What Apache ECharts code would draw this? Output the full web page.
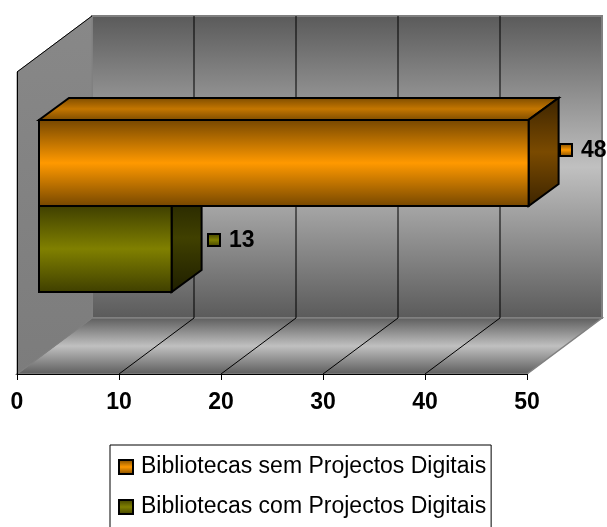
<!DOCTYPE html>
<html><head><meta charset="utf-8">
<script src="https://cdn.jsdelivr.net/npm/echarts@6/dist/echarts.min.js"></script>
<style>html,body{margin:0;padding:0;background:#fff}#c{width:607px;height:527px}</style>
</head><body><div id="c"></div>
<script>
const categories = [''];
const seriesNames = ['Bibliotecas sem Projectos Digitais', 'Bibliotecas com Projectos Digitais'];
const semValues = [48];
const comValues = [13];
const axisTicks = [0, 10, 20, 30, 40, 50];
const innerGridTicks = [10, 20, 30, 40];

const DX = 75, DY = -56;
const FONT = '"Liberation Sans", Arial, sans-serif';
const chart = echarts.init(document.getElementById('c'), null, {renderer: 'canvas'});

function vgrad(a, b, c) {
  return new echarts.graphic.LinearGradient(0, 0, 0, 1, [
    {offset: 0, color: a}, {offset: 0.5, color: b}, {offset: 1, color: c}]);
}
const palette = [
  {front: ['#744600', '#ff9900', '#744600'], top: ['#7a4a00', '#c47600', '#7a4a00'], side: ['#3c2400', '#7a4a00', '#3c2400']},
  {front: ['#3e3e00', '#808000', '#3e3e00'], top: ['#3e3e00', '#606000', '#3e3e00'], side: ['#1e1e00', '#404000', '#1e1e00']}
];
const labelShift = [[59.4, -13], [64.4, -9]];

function poly(points, fill, stroke, lw) {
  return {type: 'polygon', shape: {points}, style: {fill, stroke: stroke || 'none', lineWidth: lw || 0}};
}
function line(p, q, stroke, lw) {
  return {type: 'line', shape: {x1: p[0], y1: p[1], x2: q[0], y2: q[1]}, style: {stroke, lineWidth: lw}};
}

function renderWalls(params, api) {
  const cs = params.coordSys;
  const x0 = cs.x, x1 = cs.x + cs.width, y0 = cs.y, y1 = cs.y + cs.height;
  const back = [[x0 + DX, y0 + DY], [x1 + DX, y0 + DY], [x1 + DX, y1 + DY], [x0 + DX, y1 + DY]];
  return {type: 'group', children: [
    poly(back, vgrad('#5a5a5a', '#c0c0c0', '#5a5a5a'), '#808080', 2),
    poly([[x0, y1], [x1, y1], [x1 + DX, y1 + DY], [x0 + DX, y1 + DY]], vgrad('#5c5c5c', '#c0c0c0', '#5c5c5c'), '#808080', 1.5),
    poly([[x0, y0], [x0 + DX, y0 + DY], [x0 + DX, y1 + DY], [x0, y1]], new echarts.graphic.LinearGradient(0, 0, 0, 1, [
      {offset: 0, color: '#888888'}, {offset: 1, color: '#7c7c7c'}]), '#808080', 1),
    line([x0, y0], [x0 + DX, y0 + DY], '#000', 1)
  ]};
}
function renderGrid(params, api) {
  const p = api.coord([api.value(0), 0]);
  const cs = params.coordSys;
  const bx = p[0], by = cs.y + cs.height;
  const tx = bx + DX, ty = by + DY;
  return {type: 'group', children: [
    line([bx, by], [tx, ty], '#000', 1),
    line([tx, ty], [tx, cs.y + DY], '#000', 1)
  ]};
}
function renderBar(idx) {
  return function (params, api) {
    const v = api.value(0);
    const band = api.size([0, 1])[1];
    const th = band * 0.285;
    const gx = 22, gy = -17, bx = 30, by = -22;
    const c0 = api.coord([0, 0]), cv = api.coord([v, 0]);
    const x0 = c0[0] + gx, x1 = cv[0] + gx;
    const mid = c0[1] + gy;
    const y0 = idx === 0 ? mid - th : mid, y1 = y0 + th;
    const pal = palette[idx];
    const lx = cv[0] + labelShift[idx][0], ly = (y0 + y1) / 2 + labelShift[idx][1];
    const kids = [];
    if (idx === 0) {
      kids.push(poly([[x0, y0], [x1, y0], [x1 + bx, y0 + by], [x0 + bx, y0 + by]], vgrad(...pal.top), '#000', 2));
    }
    kids.push(poly([[x1, y0], [x1 + bx, y0 + by], [x1 + bx, y1 + by], [x1, y1]], vgrad(...pal.side), '#000', 2));
    kids.push({type: 'rect', shape: {x: x0, y: y0, width: x1 - x0, height: th}, style: {fill: vgrad(...pal.front), stroke: '#000', lineWidth: 2}});
    kids.push({type: 'rect', shape: {x: lx - 6, y: ly - 6, width: 12, height: 12}, style: {fill: vgrad(...pal.front), stroke: '#000', lineWidth: 2}});
    kids.push({type: 'text', x: lx + 15, y: ly + 1, style: {text: String(v), fill: '#000', font: 'bold 23px ' + FONT, textAlign: 'left', textVerticalAlign: 'middle'}});
    return {type: 'group', children: kids};
  };
}

chart.setOption({
  animation: false,
  backgroundColor: '#fff',
  grid: {left: 17, top: 72, width: 510, height: 302, containLabel: false},
  xAxis: {type: 'value', min: 0, max: 50, interval: 10, z: 20,
    axisLine: {show: true, lineStyle: {color: '#000', width: 1}},
    axisTick: {show: true, length: 6, inside: false, lineStyle: {color: '#000', width: 1}},
    splitLine: {show: false},
    axisLabel: {show: true, margin: 17, fontFamily: FONT, fontWeight: 'bold', fontSize: 23, color: '#000',
      formatter: v => axisTicks.includes(v) ? String(v) : ''}},
  yAxis: {type: 'category', data: categories, z: 20,
    axisLine: {show: true, lineStyle: {color: '#000', width: 1}},
    axisTick: {show: false}, axisLabel: {show: false}, splitLine: {show: false}},
  legend: {
    left: 110, top: 445, height: 110, orient: 'vertical', itemWidth: 14, itemHeight: 14, itemGap: 16, icon: 'rect',
    padding: [10, 5, 30, 8], borderColor: '#000', borderWidth: 1, backgroundColor: '#fff',
    textStyle: {fontFamily: FONT, fontSize: 23, lineHeight: 24, color: '#000', padding: [0, 0, 0, 3]},
    data: [
      {name: seriesNames[0], itemStyle: {color: vgrad(...palette[0].front), borderColor: '#000', borderWidth: 2}},
      {name: seriesNames[1], itemStyle: {color: vgrad(...palette[1].front), borderColor: '#000', borderWidth: 2}}
    ]
  },
  series: [
    {type: 'custom', name: 'walls', coordinateSystem: 'cartesian2d', z: 1, silent: true, data: [[0, 0]], renderItem: renderWalls, clip: false},
    {type: 'custom', name: 'grid', coordinateSystem: 'cartesian2d', z: 2, silent: true, data: innerGridTicks.map(t => [t, 0]), renderItem: renderGrid, clip: false},
    {type: 'custom', name: seriesNames[1], coordinateSystem: 'cartesian2d', z: 3, data: comValues.map(v => [v, 0]), renderItem: renderBar(1), clip: false, itemStyle: {color: '#808000'}},
    {type: 'custom', name: seriesNames[0], coordinateSystem: 'cartesian2d', z: 4, data: semValues.map(v => [v, 0]), renderItem: renderBar(0), clip: false, itemStyle: {color: '#ff9900'}}
  ]
});
</script></body></html>
